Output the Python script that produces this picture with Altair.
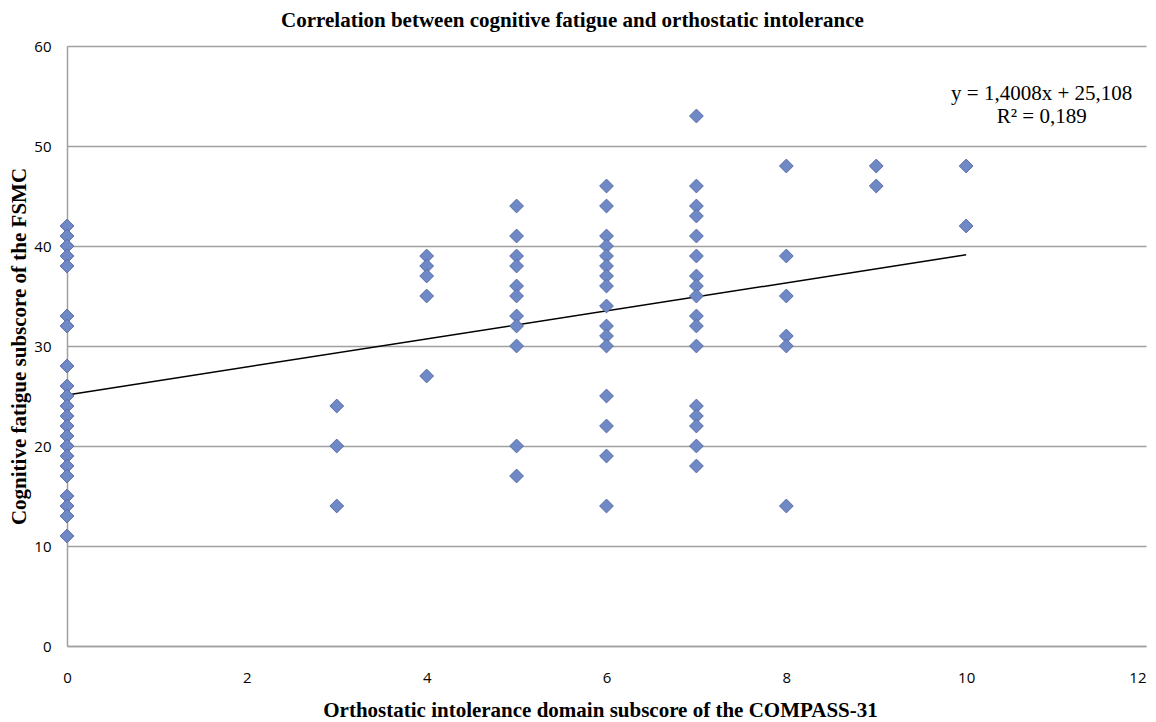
import altair as alt
import pandas as pd

# Data
x0 = [0] * 22
y0 = [42, 41, 40, 39, 38, 33, 32, 28, 26, 25, 24, 23, 22, 21, 20, 19, 18, 17, 15, 14, 13, 11]
x3 = [3] * 3
y3 = [24, 20, 14]
x4 = [4] * 5
y4 = [39, 38, 37, 35, 27]
x5 = [5] * 11
y5 = [44, 41, 39, 38, 36, 35, 33, 32, 30, 20, 17]
x6 = [6] * 16
y6 = [46, 44, 41, 40, 39, 38, 37, 36, 34, 32, 31, 30, 25, 22, 19, 14]
x7 = [7] * 17
y7 = [53, 46, 44, 43, 41, 39, 37, 36, 35, 33, 32, 30, 24, 23, 22, 20, 18]
x8 = [8] * 6
y8 = [48, 39, 35, 31, 30, 14]
x9 = [9] * 2
y9 = [48, 46]
x10 = [10] * 2
y10 = [48, 42]

slope = 1.4008
intercept = 25.108
r2 = 0.189
trend_x = [0, 10]

eq_lines = ["y = 1,4008x + 25,108", "R\u00b2 = 0,189"]
eq_x = [10.84, 10.84]
eq_y = [55.25, 52.95]

xs = x0 + x3 + x4 + x5 + x6 + x7 + x8 + x9 + x10
ys = y0 + y3 + y4 + y5 + y6 + y7 + y8 + y9 + y10
pts = pd.DataFrame({"x": xs, "y": ys})
trend = pd.DataFrame({"x": trend_x, "y": [intercept + slope * v for v in trend_x]})
eq = pd.DataFrame({"t": eq_lines, "x": eq_x, "y": eq_y})

xscale = alt.Scale(domain=[0, 12], nice=False, zero=True)
yscale = alt.Scale(domain=[0, 60], nice=False)

serif = "Liberation Serif"
sans = "Open Sans"

xaxis = alt.Axis(
    title="Orthostatic intolerance domain subscore of the COMPASS-31",
    values=[0, 2, 4, 6, 8, 10, 12], format="d", grid=False, ticks=False,
    labelFlush=False,
    labelAlign=alt.ExprRef(expr="datum.value == 12 ? 'right' : 'center'"),
    domainColor="#a0a0a0", domainWidth=1.5,
    labelFont=sans, labelFontSize=15, labelColor="#000", labelPadding=24,
    titleFont=serif, titleFontSize=21, titleFontWeight="bold", titleColor="#000",
    titleX=533, titleY=70, titleBaseline="alphabetic", titleAlign="center",
)
yaxis = alt.Axis(
    title="Cognitive fatigue subscore of the FSMC",
    values=[0, 10, 20, 30, 40, 50, 60], format="d", grid=True,
    gridColor="#a0a0a0", gridWidth=1.5, labelFlush=False,
    ticks=False, domainColor="#a0a0a0", domainWidth=1.5,
    labelFont=sans, labelFontSize=15, labelColor="#000", labelPadding=16,
    titleFont=serif, titleFontSize=21, titleFontWeight="bold", titleColor="#000",
    titleX=-42, titleY=300, titleAngle=270, titleBaseline="alphabetic", titleAlign="center",
)

points = alt.Chart(pts).mark_point(
    shape="diamond", filled=True, size=190, fill="#6f88c6", stroke="#5c6ea6",
    strokeWidth=1, opacity=1,
).encode(
    x=alt.X("x:Q", scale=xscale, axis=xaxis),
    y=alt.Y("y:Q", scale=yscale, axis=yaxis),
)

line = alt.Chart(trend).mark_line(color="#000", strokeWidth=1.5).encode(
    x=alt.X("x:Q", scale=xscale),
    y=alt.Y("y:Q", scale=yscale),
)

label = alt.Chart(eq).mark_text(font=serif, fontSize=21, color="#000", align="center",
                                baseline="middle").encode(
    x=alt.X("x:Q", scale=xscale),
    y=alt.Y("y:Q", scale=yscale),
    text="t:N",
)

chart = alt.layer(line, points, label).properties(
    width=1079, height=600,
    title=alt.TitleParams(
        "Correlation between cognitive fatigue and orthostatic intolerance",
        font=serif, fontSize=21, fontWeight="bold", color="#000",
        anchor="middle", dx=-34, offset=8,
    ),
    autosize=alt.AutoSizeParams(type="none"),
    padding={"left": 59, "top": 38, "right": 2, "bottom": 80},
).configure_view(stroke=None)

chart.save("out.html", embed_options={"renderer": "svg", "actions": False})
